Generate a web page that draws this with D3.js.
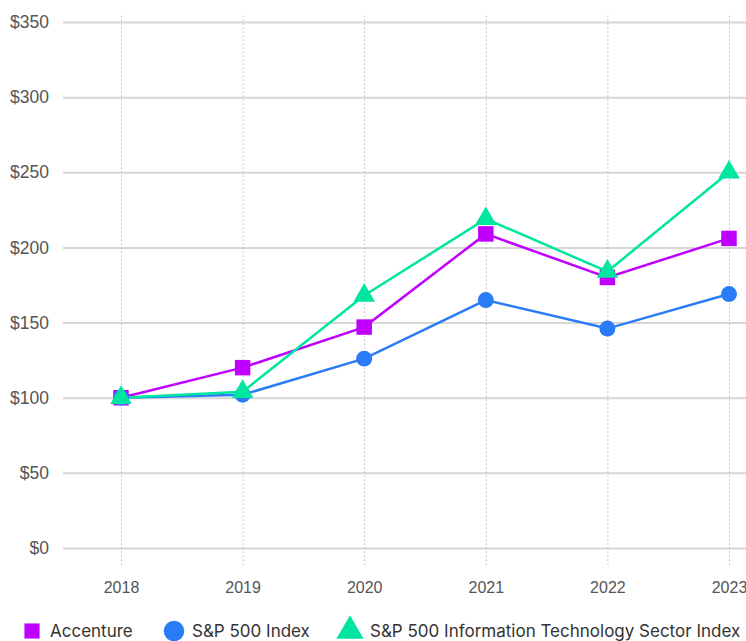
<!DOCTYPE html>
<html>
<head>
<meta charset="utf-8">
<script src="https://cdn.jsdelivr.net/npm/d3@7"></script>
<style>
body{margin:0;background:#fff;}
svg{display:block;font-family:Inter, "Noto Sans", sans-serif;}
.tick text{fill:#555;font-size:16px;}
</style>
</head>
<body>
<svg id="svg" width="746" height="641"></svg>
<script>
var years=['2018','2019','2020','2021','2022','2023'];
var accenture=[100,120,147,209,180,206];
var sp500=[100,102,126,165,146,169];
var spTech=[100,104,168,219,184,250];
var yTicks=[0,50,100,150,200,250,300,350];
var seriesNames=['Accenture','S&P 500 Index','S&P 500 Information Technology Sector Index'];

var series=[
    {name:seriesNames[0],values:accenture,color:'#c000ff',shape:d3.symbolSquare,size:240},
    {name:seriesNames[1],values:sp500,color:'#2a7cf6',shape:d3.symbolCircle,size:200},
    {name:seriesNames[2],values:spTech,color:'#00e5a0',shape:d3.symbolTriangle,size:200}
];

var svg=d3.select("#svg");
var plot={left:63,right:746,top:22,bottom:548};

var xScale=d3.scalePoint().domain(years).range([121,729]);
var yScale=d3.scaleLinear().domain([0,350]).range([plot.bottom,plot.top]);

// horizontal grid + y labels
var yAxis=svg.append("g")
    .attr("transform","translate("+plot.left+",0)")
    .call(d3.axisLeft(yScale).tickValues(yTicks)
        .tickSize(-(plot.right-plot.left))
        .tickPadding(14)
        .tickFormat(function(d){return '$'+d;}));
yAxis.select(".domain").remove();
yAxis.selectAll(".tick line").attr("stroke","#d6d6d6").attr("stroke-width",2);
yAxis.selectAll(".tick text").style("font-size","17.5px");

// vertical dotted lines + x labels
var xAxis=svg.append("g")
    .attr("transform","translate(0,565)")
    .call(d3.axisBottom(xScale).tickSize(-(565-15)).tickPadding(14));
xAxis.select(".domain").remove();
xAxis.selectAll(".tick line").attr("stroke","#bbb").attr("stroke-width",1).attr("stroke-dasharray","1.5,2.5");
xAxis.selectAll(".tick text").attr("dy","0.9em");

var line=d3.line()
    .x(function(d,i){return xScale(years[i]);})
    .y(function(d){return yScale(d);});

series.forEach(function(s){
    var g=svg.append("g");
    g.append("path")
        .attr("d",line(s.values))
        .attr("fill","none")
        .attr("stroke",s.color)
        .attr("stroke-width",2.5);
});
series.forEach(function(s){
    svg.append("g").selectAll("path")
        .data(s.values)
        .enter().append("path")
        .attr("transform",function(d,i){return "translate("+xScale(years[i])+","+yScale(d)+")";})
        .attr("d",d3.symbol().type(s.shape).size(s.size))
        .attr("fill",s.color);
});

// legend
var legendX=[32,174,350];
var legend=svg.append("g").attr("transform","translate(0,631)");
series.forEach(function(s,i){
    var item=legend.append("g").attr("transform","translate("+legendX[i]+",0)");
    item.append("path")
        .attr("d",d3.symbol().type(s.shape).size(i==0?230:(i==1?330:320)))
        .attr("fill",s.color);
    item.append("text")
        .attr("x",i==0?18:(i==1?18:20))
        .attr("dy","0.35em")
        .attr("fill","#333")
        .style("font-size","17px")
        .text(s.name);
});
</script>
</body>
</html>
